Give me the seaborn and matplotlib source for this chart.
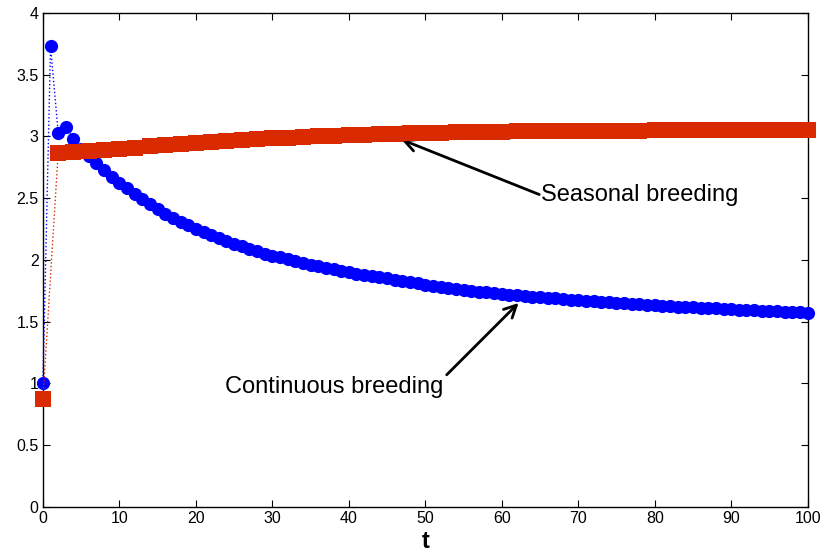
import matplotlib
matplotlib.use("Agg")
import matplotlib.pyplot as plt
import seaborn as sns
import numpy as np

# ---- data ----
t_cont = list(range(0, 101))
continuous = [
    1.00, 3.73, 3.03, 3.08, 2.98, 2.90, 2.84, 2.785, 2.73, 2.675,
    2.625, 2.58, 2.535, 2.49, 2.45, 2.41, 2.375, 2.34, 2.31, 2.28,
    2.25, 2.225, 2.20, 2.175, 2.15, 2.13, 2.11, 2.09, 2.07, 2.05,
    2.035, 2.02, 2.005, 1.99, 1.975, 1.96, 1.95, 1.935, 1.925, 1.91,
    1.90, 1.89, 1.88, 1.87, 1.86, 1.85, 1.84, 1.83, 1.82, 1.81,
    1.795, 1.787, 1.779, 1.771, 1.764, 1.757, 1.750, 1.744, 1.738, 1.732,
    1.726, 1.720, 1.714, 1.708, 1.703, 1.698, 1.693, 1.688, 1.683, 1.679,
    1.675, 1.670, 1.666, 1.662, 1.658, 1.654, 1.650, 1.646, 1.642, 1.638,
    1.634, 1.630, 1.627, 1.623, 1.620, 1.617, 1.613, 1.610, 1.607, 1.604,
    1.601, 1.598, 1.595, 1.592, 1.589, 1.586, 1.583, 1.580, 1.578, 1.575,
    1.572,
]
t_seas = list(range(0, 101, 2))
seasonal = [
    0.87, 2.87, 2.875, 2.88, 2.89, 2.90, 2.91, 2.92, 2.93, 2.94,
    2.95, 2.955, 2.965, 2.97, 2.98, 2.985, 2.99, 2.995, 3.00, 3.005,
    3.01, 3.015, 3.02, 3.022, 3.025, 3.028, 3.031, 3.033, 3.035, 3.037,
    3.039, 3.041, 3.042, 3.043, 3.044, 3.045, 3.046, 3.047, 3.048, 3.048,
    3.049, 3.049, 3.05, 3.05, 3.05, 3.051, 3.051, 3.051, 3.052, 3.052,
    3.052,
]
x_ticks = list(range(0, 101, 10))
y_ticks = [0, 0.5, 1, 1.5, 2, 2.5, 3, 3.5, 4]
y_tick_labels = ["0", "0.5", "1", "1.5", "2", "2.5", "3", "3.5", "4"]

# ---- style ----
sns.set_theme(style="ticks")
plt.rcParams['font.family'] = ['Liberation Sans', 'DejaVu Sans']
plt.rcParams['xtick.direction'] = 'in'
plt.rcParams['ytick.direction'] = 'in'

fig = plt.figure(figsize=(8.25, 5.54), dpi=100)
ax = fig.add_axes([0.052, 0.085, 0.927, 0.8915])

blue = '#0000FF'
red = '#DA2A00'

sns.lineplot(x=t_cont, y=continuous, ax=ax, color=blue, linestyle=':',
             linewidth=1.0, marker='o', markersize=9.5, markeredgewidth=0,
             markerfacecolor=blue, clip_on=False, zorder=3)
sns.lineplot(x=t_seas, y=seasonal, ax=ax, color=red, linestyle=':',
             linewidth=1.0, marker='s', markersize=11.2, markeredgewidth=0,
             markerfacecolor=red, clip_on=False, zorder=4)

ax.set_xlim(0, 100)
ax.set_ylim(0, 4)
ax.set_xticks(x_ticks)
ax.set_xticklabels([str(v) for v in x_ticks])
ax.set_yticks(y_ticks)
ax.set_yticklabels(y_tick_labels)
ax.tick_params(axis='both', which='both', direction='in', length=5,
               width=0.8, labelsize=11.5, top=True, right=True,
               colors='black', pad=3)
for s in ax.spines.values():
    s.set_visible(True)
    s.set_linewidth(1.0)
    s.set_color('black')

ax.set_xlabel('t', fontsize=17, fontweight='bold', labelpad=3, color='black')
ax.set_ylabel('')

ax.annotate('', xy=(46.9, 2.975), xytext=(64.9, 2.53),
            arrowprops=dict(arrowstyle='->', lw=2, color='black',
                            mutation_scale=22, shrinkA=0, shrinkB=0))
ax.text(65.1, 2.53, 'Seasonal breeding', fontsize=17, ha='left',
        va='center', color='black')
ax.annotate('', xy=(62.2, 1.652), xytext=(52.8, 1.07),
            arrowprops=dict(arrowstyle='->', lw=2, color='black',
                            mutation_scale=22, shrinkA=0, shrinkB=0))
ax.text(23.8, 0.975, 'Continuous breeding', fontsize=17, ha='left',
        va='center', color='black')

fig.savefig('out.png', dpi=100)
